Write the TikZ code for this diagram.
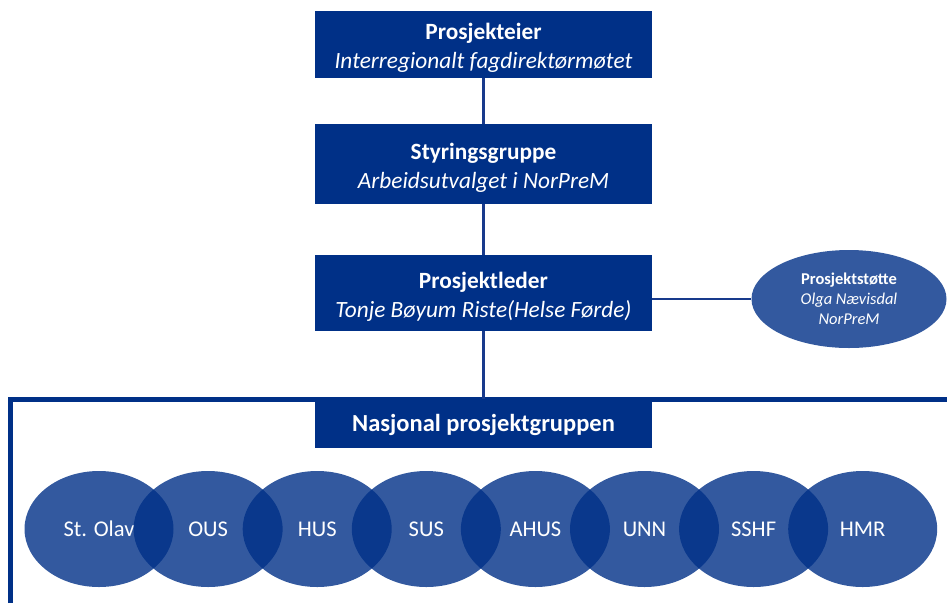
\documentclass[tikz,border=0pt]{standalone}
\usepackage{fontspec}
\setmainfont{Carlito}
\usetikzlibrary{shapes.geometric}
\definecolor{navy}{RGB}{0,48,135}
\definecolor{linecol}{RGB}{24,58,140}
\newcommand{\lowertop}{\rule{0pt}{24pt}}
\tikzset{
  orgbox/.style={rectangle, fill=navy, text=white, inner sep=0pt,
    minimum width=337pt, align=center, font=\fontsize{23.3}{29}\selectfont},
  member/.style={ellipse, fill=navy, fill opacity=0.8, text opacity=1, text=white,
    inner sep=0pt, minimum width=149pt, minimum height=116pt,
    font=\fontsize{22.5}{26}\selectfont},
  support/.style={ellipse, fill=navy, fill opacity=0.8, text opacity=1, text=white,
    inner sep=0pt, minimum width=195pt, minimum height=98pt, align=center,
    font=\fontsize{16.5}{20}\selectfont},
  conn/.style={draw=linecol, line width=2.5pt},
  frameline/.style={draw=navy, line width=5pt}
}
\begin{document}
\begin{tikzpicture}[x=1pt,y=-1pt]
\useasboundingbox (0,0) rectangle (947,603);
\node[orgbox, minimum height=67pt] (pe) at (483.5,44)
  {\lowertop\textbf{Prosjekteier}\\\textit{Interregionalt fagdirektørmøtet}};
\node[orgbox, minimum height=80pt] (sg) at (483.5,164)
  {\lowertop\textbf{Styringsgruppe}\\\textit{Arbeidsutvalget i NorPreM}};
\node[orgbox, minimum height=76pt] (pl) at (483.5,293)
  {\lowertop\textbf{Prosjektleder}\\\textit{Tonje Bøyum Riste(Helse Førde)}};
\node[support] (ps) at (849,299)
  {\textbf{Prosjektstøtte}\\\textit{Olga Nævisdal}\\\textit{NorPreM}};
\coordinate (fc) at (10,399);
\draw[frameline] (10,603) -- (fc) -- (947,399);
\node[orgbox, minimum height=46pt, font=\fontsize{24.5}{28}\selectfont\bfseries] (np) at (483.5,424.5)
  {Nasjonal prosjektgruppen};
\draw[conn] (pe.south) -- (sg.north);
\draw[conn] (sg.south) -- (pl.north);
\draw[conn] (pl.south) -- (pl.south |- fc);
\draw[conn] (pl.east |- ps.west) -- (ps.west);
\foreach \name/\lab [count=\i from 0] in {a/St. Olav,b/OUS,c/HUS,d/SUS,e/AHUS,f/UNN,g/SSHF,h/HMR}{
  \node[member] (m\name) at (99+109.1*\i,529) {\lab};
}
\end{tikzpicture}
\end{document}
